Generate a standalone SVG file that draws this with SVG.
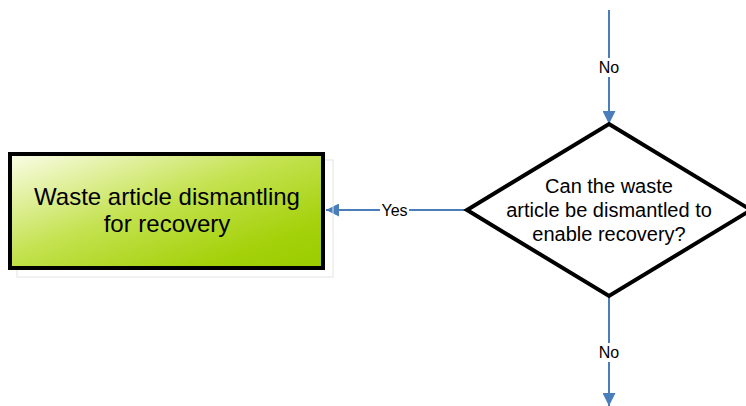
<svg xmlns="http://www.w3.org/2000/svg" width="746" height="406" viewBox="0 0 746 406">
  <style>
    .conn { stroke: #4a7ebb; stroke-width: 2; fill: none; }
    .lbl { font-family: "Liberation Sans", Arial, sans-serif; font-size: 16px; fill: #000; text-anchor: middle; }
    .txt { font-family: "Liberation Sans", Arial, sans-serif; fill: #000; text-anchor: middle; }
  </style>
  <defs>
    <linearGradient id="greenFill" x1="0" y1="0" x2="1" y2="1">
      <stop offset="0" stop-color="#fbfde8"/>
      <stop offset="0.45" stop-color="#c4e250"/>
      <stop offset="0.8" stop-color="#a4d10a"/>
      <stop offset="1" stop-color="#99cc00"/>
    </linearGradient>
    <marker id="arrow" viewBox="0 0 10 10" refX="10" refY="5" markerWidth="13" markerHeight="13" orient="auto" markerUnits="userSpaceOnUse">
      <path d="M0,0 L10,5 L0,10 z" fill="#4a7ebb"/>
    </marker>
  </defs>

  <rect width="746" height="406" fill="#ffffff"/>

  <!-- connectors -->
  <g id="connectors">
    <line class="conn" x1="609" y1="10" x2="609" y2="124" marker-end="url(#arrow)"/>
    <rect x="597" y="58" width="24" height="19" fill="#fff"/>
    <text class="lbl" x="609" y="73">No</text>

    <line class="conn" x1="609" y1="296" x2="609" y2="406" marker-end="url(#arrow)"/>
    <rect x="597" y="343" width="24" height="19" fill="#fff"/>
    <text class="lbl" x="609" y="358">No</text>

    <line class="conn" x1="466" y1="210" x2="326" y2="210" marker-end="url(#arrow)"/>
    <rect x="380" y="201" width="29" height="18" fill="#fff"/>
    <text class="lbl" x="394.5" y="216">Yes</text>
  </g>

  <!-- process node -->
  <g id="dismantling">
    <rect x="17" y="160" width="316" height="117" fill="none" stroke="#e4e4e4" stroke-width="1"/>
    <rect x="10" y="154" width="313" height="114" fill="url(#greenFill)" stroke="#000" stroke-width="4"/>
    <text class="txt" font-size="24" x="167" y="205">Waste article dismantling</text>
    <text class="txt" font-size="24" x="167" y="232">for recovery</text>
  </g>

  <!-- decision node -->
  <g id="decision">
    <polygon points="609,124 751,210 609,296 467,210" fill="#fff" stroke="#000" stroke-width="4" stroke-linejoin="miter"/>
    <text class="txt" font-size="20" x="609" y="193">Can the waste</text>
    <text class="txt" font-size="20" x="609" y="217">article be dismantled to</text>
    <text class="txt" font-size="20" x="609" y="241">enable recovery?</text>
  </g>
</svg>
